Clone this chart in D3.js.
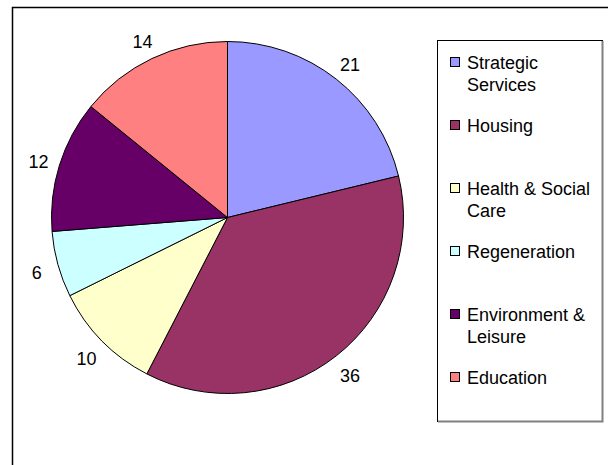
<!DOCTYPE html>
<html><head><meta charset="utf-8">
<script src="https://cdn.jsdelivr.net/npm/d3@7"></script>
<style>
html,body{margin:0;padding:0;background:#fff;}
svg{display:block;font-family:"Liberation Sans",Arial,sans-serif;}
</style></head>
<body>
<svg id="chart" width="608" height="465"></svg>
<script>
const categories = ["Strategic Services", "Housing", "Health & Social Care", "Regeneration", "Environment & Leisure", "Education"];
const values = [21, 36, 10, 6, 12, 14];
const legendLines = [["Strategic", "Services"], ["Housing"], ["Health & Social", "Care"], ["Regeneration"], ["Environment &", "Leisure"], ["Education"]];
const colors = ["#9999FF", "#993366", "#FFFFCC", "#CCFFFF", "#660066", "#FF8080"];

const svg = d3.select("#chart");

// outer chart border
svg.append("rect").attr("x", 12.5).attr("y", 7.5).attr("width", 620).attr("height", 480)
  .attr("fill", "#fff").attr("stroke", "#000").attr("stroke-width", 1.5);

const cx = 227.5, cy = 217.5, R = 176;
const pie = d3.pie().sort(null).value(d => d)(values);
const arc = d3.arc().innerRadius(0).outerRadius(R);
const labelArc = d3.arc().innerRadius(198).outerRadius(198);

const g = svg.append("g").attr("transform", `translate(${cx},${cy})`);
g.selectAll("path").data(pie).join("path")
  .attr("d", arc)
  .attr("fill", (d, i) => colors[i])
  .attr("stroke", "#000").attr("stroke-width", 1);

g.selectAll("text.lbl").data(pie).join("text").attr("class", "lbl")
  .attr("x", d => labelArc.centroid(d)[0])
  .attr("y", d => labelArc.centroid(d)[1] + 3)
  .attr("text-anchor", "middle").attr("dominant-baseline", "central")
  .attr("font-size", 18).attr("fill", "#000")
  .text(d => d.data);

// legend
const lx = 437, ly = 40, lw = 165, lh = 381;
svg.append("rect").attr("x", lx + 0.5).attr("y", ly + 0.5).attr("width", lw).attr("height", lh)
  .attr("fill", "#fff").attr("stroke", "#000").attr("stroke-width", 1);
svg.append("path").attr("d", `M${lx + lw + 0.5},${ly + 1}V${ly + lh + 0.5}H${lx + 1}`)
  .attr("fill", "none").attr("stroke", "#808080").attr("stroke-width", 2);

const ys = d3.scalePoint().domain(categories).range([63, 378]);
const items = svg.selectAll("g.leg").data(categories).join("g").attr("class", "leg")
  .attr("transform", d => `translate(0,${ys(d)})`);
items.append("rect").attr("x", 450.5).attr("y", -5.5).attr("width", 9).attr("height", 9)
  .attr("fill", (d, i) => colors[i]).attr("stroke", "#000").attr("stroke-width", 1);
items.each(function(d, i) {
  const t = d3.select(this).append("text").attr("x", 467).attr("y", 0)
    .attr("font-size", 18).attr("dominant-baseline", "central").attr("fill", "#000");
  legendLines[i].forEach((ln, j) => {
    t.append("tspan").attr("x", 467).attr("y", j * 22).text(ln);
  });
});
</script>
</body></html>
